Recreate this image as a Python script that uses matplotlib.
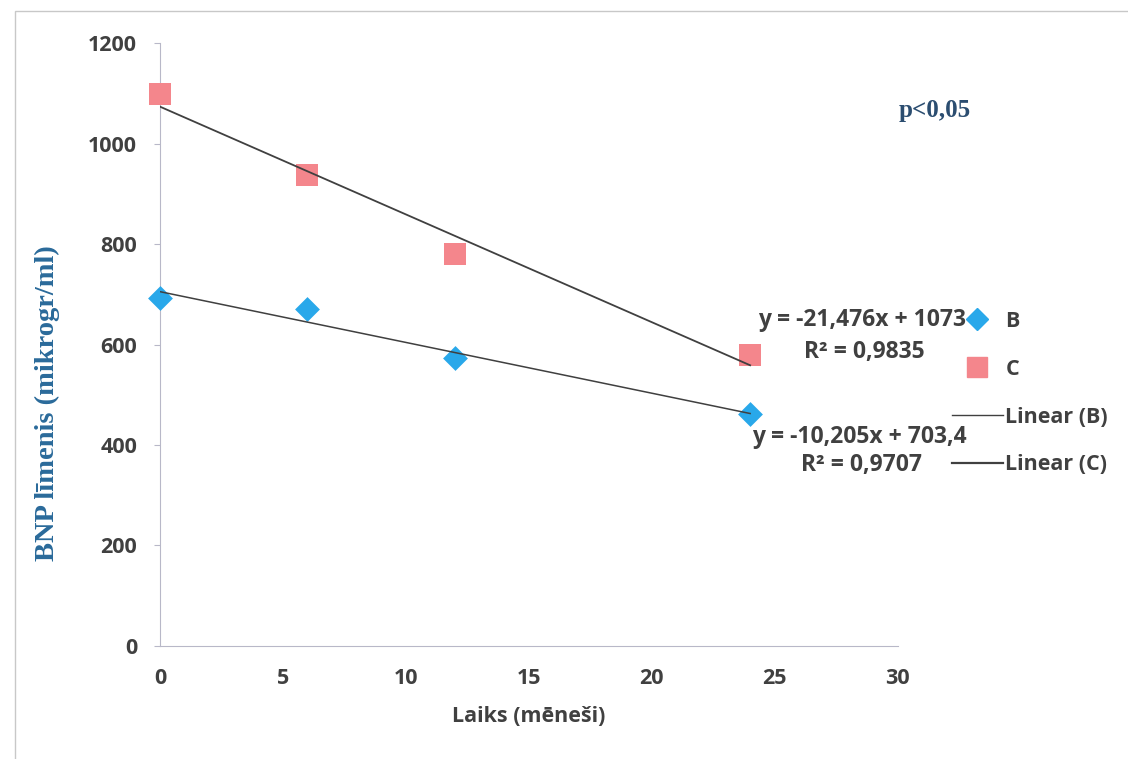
import numpy as np
import matplotlib.pyplot as plt
from matplotlib.lines import Line2D
from matplotlib.patches import Rectangle

months = [0, 6, 12, 24]
bnp_b = [692, 670, 573, 462]
bnp_c = [1098, 937, 780, 579]
eq_b = ['y = -10,205x + 703,4', 'R² = 0,9707']
eq_c = ['y = -21,476x + 1073', 'R² = 0,9835']

gray = '#404040'
blue = '#29a8ea'
pink = '#f4868c'

plt.rcParams['font.family'] = ['Open Sans', 'DejaVu Sans']
plt.rcParams['font.weight'] = 'bold'

fig = plt.figure(figsize=(11.28, 7.59), dpi=100)
ax = fig.add_axes([0.1418, 0.149, 0.654, 0.794])

ax.scatter(months, bnp_b, marker='D', s=160, color=blue, zorder=3, linewidths=0, clip_on=False)
ax.scatter(months, bnp_c, marker='s', s=240, color=pink, zorder=3, linewidths=0, clip_on=False)

xs = np.array([months[0], months[-1]])
kb = np.polyfit(months, bnp_b, 1)
kc = np.polyfit(months, bnp_c, 1)
ax.plot(xs, np.polyval(kb, xs), color=gray, lw=1.1, zorder=4)
ax.plot(xs, np.polyval(kc, xs), color=gray, lw=1.3, zorder=4)

ax.set_xlim(0, 30)
ax.set_ylim(0, 1200)
ax.set_xticks(range(0, 31, 5))
ax.set_yticks(range(0, 1201, 200))
for s in ['top', 'right']:
    ax.spines[s].set_visible(False)
for s in ['left', 'bottom']:
    ax.spines[s].set_color('#b8b8c8')
    ax.spines[s].set_linewidth(0.8)
ax.tick_params(axis='both', colors='#b8b8c8', length=4, width=0.8, pad=12.5)
ax.tick_params(axis='x', length=0, pad=16)
for lab in ax.get_xticklabels() + ax.get_yticklabels():
    lab.set_color(gray)
    lab.set_fontsize(15.5)
    lab.set_fontweight('bold')

ax.set_xlabel('Laiks (mēneši)', fontsize=15.5, fontweight='bold', color=gray, labelpad=12)
ax.set_ylabel('BNP līmenis (mikrogr/ml)', fontsize=20.5, fontweight='bold',
              color='#2a6a9a', family=['Liberation Serif', 'DejaVu Serif'])
ax.yaxis.set_label_coords(-0.1355, 0.403)

fig.text(0.829, 0.855, 'p<0,05', fontsize=18, fontweight='bold', color='#2b4d70',
         family=['Liberation Serif', 'DejaVu Serif'], ha='center', va='center')

fig.text(0.764, 0.578, eq_c[0], fontsize=16.5, fontweight='bold', color=gray, ha='center', va='center')
fig.text(0.766, 0.536, eq_c[1], fontsize=16.5, fontweight='bold', color=gray, ha='center', va='center')
fig.text(0.762, 0.424, eq_b[0], fontsize=16.5, fontweight='bold', color=gray, ha='center', va='center')
fig.text(0.764, 0.387, eq_b[1], fontsize=16.5, fontweight='bold', color=gray, ha='center', va='center')

handles = [
    Line2D([], [], marker='D', color=blue, ls='none', markersize=11),
    Line2D([], [], marker='s', color=pink, ls='none', markersize=14),
    Line2D([], [], color=gray, lw=1.0),
    Line2D([], [], color=gray, lw=1.6),
]
labels = ['B', 'C', 'Linear (B)', 'Linear (C)']
leg = fig.legend(handles, labels, loc='upper left', bbox_to_anchor=(0.836, 0.602),
                 frameon=False, fontsize=15.5, labelspacing=1.25, handlelength=2.4,
                 handletextpad=0.1, borderaxespad=0)
for t in leg.get_texts():
    t.set_color(gray)
    t.set_fontweight('bold')

fig.patches.append(Rectangle((0.013, -0.01), 1.0, 0.995, transform=fig.transFigure,
                             fill=False, edgecolor='#c8c8c8', lw=1.0))

fig.savefig('out.png', dpi=100)
